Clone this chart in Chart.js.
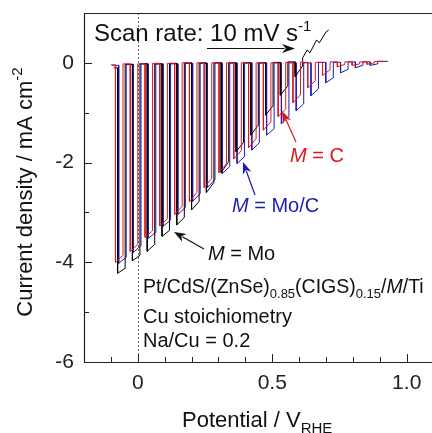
<!DOCTYPE html>
<html>
<head>
<meta charset="utf-8">
<script src="https://cdn.jsdelivr.net/npm/chart.js@4.4.1/dist/chart.umd.min.js"></script>
<style>
html,body{margin:0;padding:0;background:#fff;}
#wrap{width:432px;height:433px;position:relative;}
</style>
</head>
<body>
<div id="wrap"><canvas id="c" width="432" height="433"></canvas></div>
<script>
// ---- axis ticks ----
const xMajor = [0, 0.5, 1.0];
const xMajorLabels = ['0', '0.5', '1.0'];
const xMinor = [-0.1, 0.1, 0.2, 0.3, 0.4, 0.6, 0.7, 0.8, 0.9];
const yMajor = [-6, -4, -2, 0];
const yMajorLabels = ['-6', '-4', '-2', '0'];
const yMinor = [-5, -3, -1];

// ---- M = Mo (black) : chopped-light pulses (potential V, current mA cm-2) ----
const blackStart = [-0.09];
const blackOn  = [-0.075, -0.020, 0.035, 0.090, 0.145, 0.200, 0.255, 0.310, 0.365, 0.420, 0.475, 0.530, 0.585];
const blackOff = [-0.047, 0.008, 0.063, 0.118, 0.173, 0.228, 0.283, 0.338, 0.393, 0.448, 0.503, 0.558, 0.613];
const blackLightStart = [-4.22, -3.97, -3.78, -3.48, -3.25, -2.95, -2.60, -2.20, -1.78, -1.45, -1.05, -0.65, -0.28];
const blackLightEnd   = [-4.12, -3.86, -3.64, -3.36, -3.10, -2.78, -2.40, -1.98, -1.60, -1.25, -0.86, -0.46, -0.06];
const blackDark = [-0.10, -0.03, -0.02, -0.02, -0.01, 0.0, 0.0, 0.0, 0.0, 0.0, 0.0, 0.01, 0.02, 0.10];
const blackTailV = [0.630, 0.640, 0.665, 0.675, 0.700, 0.710];
const blackTailJ = [0.26, 0.20, 0.46, 0.40, 0.62, 0.66];

// ---- M = Mo/C (blue) ----
const blueStart = [-0.095];
const blueOn  = [-0.071, -0.016, 0.039, 0.094, 0.149, 0.204, 0.259, 0.314, 0.369, 0.424, 0.479, 0.534, 0.589, 0.644, 0.699, 0.754, 0.809, 0.864];
const blueOff = [-0.043, 0.012, 0.067, 0.122, 0.177, 0.232, 0.287, 0.342, 0.397, 0.452, 0.507, 0.562, 0.617, 0.672, 0.727, 0.782, 0.837, 0.892];
const blueLightStart = [-4.02, -3.80, -3.52, -3.28, -3.04, -2.78, -2.50, -2.22, -2.02, -1.75, -1.45, -1.22, -0.96, -0.66, -0.40, -0.20, -0.10, -0.05];
const blueLightEnd   = [-3.90, -3.66, -3.40, -3.15, -2.90, -2.62, -2.34, -2.08, -1.88, -1.60, -1.32, -1.08, -0.82, -0.52, -0.30, -0.13, -0.05, -0.02];
const blueDark = [-0.05, -0.03, -0.02, -0.02, -0.02, -0.01, -0.01, 0.0, 0.0, 0.0, 0.0, 0.0, 0.0, 0.0, 0.01, 0.01, 0.02, 0.02, 0.03];
const blueEnd = [0.93, 0.03];

// ---- M = C (red) ----
const redStart = [-0.10];
const redOn  = [-0.083, -0.028, 0.027, 0.082, 0.137, 0.192, 0.247, 0.302, 0.357, 0.412, 0.467, 0.522, 0.577, 0.632, 0.687, 0.742, 0.797, 0.852];
const redOff = [-0.055, 0.000, 0.055, 0.110, 0.165, 0.220, 0.275, 0.330, 0.385, 0.440, 0.495, 0.550, 0.605, 0.660, 0.715, 0.770, 0.825, 0.880];
const redLightStart = [-4.00, -3.78, -3.50, -3.27, -3.04, -2.78, -2.50, -2.20, -1.93, -1.70, -1.35, -1.08, -0.80, -0.50, -0.25, -0.08, -0.05, -0.03];
const redLightEnd   = [-3.86, -3.64, -3.37, -3.13, -2.88, -2.60, -2.32, -2.02, -1.76, -1.52, -1.18, -0.92, -0.64, -0.36, -0.14, -0.03, -0.02, 0.0];
const redDark = [-0.04, -0.02, -0.02, -0.01, -0.01, 0.0, 0.0, 0.0, 0.0, 0.0, 0.0, 0.0, 0.01, 0.01, 0.01, 0.02, 0.02, 0.02, 0.03];
const redEnd = [0.92, 0.03];

function chop(start, on, off, ls, le, dark) {
  const pts = [{x: start[0], y: dark[0]}];
  for (let i = 0; i < on.length; i++) {
    pts.push({x: on[i], y: dark[i]});
    pts.push({x: on[i], y: ls[i]});
    pts.push({x: off[i], y: le[i]});
    pts.push({x: off[i], y: dark[i + 1]});
  }
  return pts;
}

const blackPts = chop(blackStart, blackOn, blackOff, blackLightStart, blackLightEnd, blackDark)
  .concat(blackTailV.map((v, i) => ({x: v, y: blackTailJ[i]})));
const bluePts = chop(blueStart, blueOn, blueOff, blueLightStart, blueLightEnd, blueDark);
bluePts.push({x: blueEnd[0], y: blueEnd[1]});
const redPts = chop(redStart, redOn, redOff, redLightStart, redLightEnd, redDark);
redPts.push({x: redEnd[0], y: redEnd[1]});

const FONT = "'Liberation Sans', Arial, Helvetica, sans-serif";
const RED = '#e0161e', BLUE = '#1c1cb4', BLACK = '#000000';

function drawRich(ctx, x, y, parts, base) {
  let cx = x;
  parts.forEach(p => {
    const size = p.size || base;
    ctx.font = (p.italic ? 'italic ' : '') + size + 'px ' + FONT;
    ctx.fillStyle = p.color || '#111';
    ctx.textBaseline = 'alphabetic';
    ctx.textAlign = 'left';
    ctx.fillText(p.t, cx, y + (p.dy || 0));
    cx += ctx.measureText(p.t).width;
  });
  return cx - x;
}
function richWidth(ctx, parts, base) {
  let w = 0;
  parts.forEach(p => {
    ctx.font = (p.italic ? 'italic ' : '') + (p.size || base) + 'px ' + FONT;
    w += ctx.measureText(p.t).width;
  });
  return w;
}
function arrow(ctx, x1, y1, x2, y2, color, hl, hw) {
  const a = Math.atan2(y2 - y1, x2 - x1);
  ctx.save();
  ctx.strokeStyle = color; ctx.fillStyle = color; ctx.lineWidth = 1.2;
  ctx.beginPath();
  ctx.moveTo(x1, y1);
  ctx.lineTo(x2 - Math.cos(a) * hl * 0.8, y2 - Math.sin(a) * hl * 0.8);
  ctx.stroke();
  ctx.beginPath();
  ctx.moveTo(x2, y2);
  ctx.lineTo(x2 - Math.cos(a) * hl + Math.sin(a) * hw, y2 - Math.sin(a) * hl - Math.cos(a) * hw);
  ctx.lineTo(x2 - Math.cos(a) * hl * 0.7, y2 - Math.sin(a) * hl * 0.7);
  ctx.lineTo(x2 - Math.cos(a) * hl - Math.sin(a) * hw, y2 - Math.sin(a) * hl + Math.cos(a) * hw);
  ctx.closePath();
  ctx.fill();
  ctx.restore();
}

const framePlugin = {
  id: 'frame',
  beforeDatasetsDraw(chart) {
    const {ctx, chartArea: a, scales: {x}} = chart;
    const x0 = x.getPixelForValue(0);
    ctx.save();
    ctx.strokeStyle = '#666'; ctx.lineWidth = 1; ctx.setLineDash([2, 2]);
    ctx.beginPath(); ctx.moveTo(Math.round(x0) + 0.5, a.top); ctx.lineTo(Math.round(x0) + 0.5, a.bottom); ctx.stroke();
    ctx.restore();
  },
  afterDraw(chart) {
    const {ctx, chartArea: a, scales: {x, y}} = chart;
    ctx.save();
    ctx.strokeStyle = '#222'; ctx.lineWidth = 1.2;
    ctx.beginPath();
    ctx.moveTo(a.right + 2, a.top + 0.5); ctx.lineTo(a.left + 0.5, a.top + 0.5);
    ctx.lineTo(a.left + 0.5, a.bottom + 0.5); ctx.lineTo(a.right + 2, a.bottom + 0.5);
    ctx.stroke();
    ctx.lineWidth = 1;
    const xt = (vals, len) => vals.forEach(v => {
      const px = Math.round(x.getPixelForValue(v)) + 0.5;
      ctx.beginPath(); ctx.moveTo(px, a.bottom); ctx.lineTo(px, a.bottom - len); ctx.stroke();
    });
    const yt = (vals, len) => vals.forEach(v => {
      const py = Math.round(y.getPixelForValue(v)) + 0.5;
      ctx.beginPath(); ctx.moveTo(a.left, py); ctx.lineTo(a.left + len, py); ctx.stroke();
    });
    xt(xMajor, 8); xt(xMinor, 5); yt(yMajor, 8); yt(yMinor, 5);

    // scan rate
    drawRich(ctx, 94, 41, [{t: 'Scan rate: 10 mV s'}, {t: '-1', size: 15, dy: -10}], 24);
    arrow(ctx, 207, 48.5, 295, 48.5, '#111', 13, 4.5);

    // series labels
    drawRich(ctx, 290, 162, [{t: 'M', italic: true, color: RED}, {t: ' = C', color: RED}], 20);
    arrow(ctx, 296, 142, 282, 111, RED, 12, 4.5);
    drawRich(ctx, 232, 212, [{t: 'M', italic: true, color: BLUE}, {t: ' = Mo/C', color: BLUE}], 20);
    arrow(ctx, 255, 195, 243, 162, BLUE, 12, 4.5);
    drawRich(ctx, 208, 260, [{t: 'M', italic: true, color: '#111'}, {t: ' = Mo', color: '#111'}], 20);
    arrow(ctx, 204, 249, 174, 232, '#111', 12, 4.5);

    // sample block
    drawRich(ctx, 143, 293, [
      {t: 'Pt/CdS/(ZnSe)'}, {t: '0.85', size: 13, dy: 5}, {t: '(CIGS)'}, {t: '0.15', size: 13, dy: 5},
      {t: '/'}, {t: 'M', italic: true}, {t: '/Ti'}], 19.5);
    drawRich(ctx, 143, 323, [{t: 'Cu stoichiometry'}], 20);
    drawRich(ctx, 143, 347, [{t: 'Na/Cu = 0.2'}], 20);

    // x title
    drawRich(ctx, 182, 427, [{t: 'Potential / V'}, {t: 'RHE', size: 15, dy: 6}], 22);

    // y title
    const yParts = [{t: 'Current density / mA cm'}, {t: '-2', size: 15, dy: -10}];
    const w = richWidth(ctx, yParts, 22);
    ctx.save();
    ctx.translate(32, 192);
    ctx.rotate(-Math.PI / 2);
    drawRich(ctx, -w / 2, 0, yParts, 22);
    ctx.restore();
    ctx.restore();
  }
};

function noPad(s) { s.paddingTop = 0; s.paddingBottom = 0; s.paddingLeft = 0; s.paddingRight = 0; }

const tickFont = {family: FONT, size: 21};
new Chart(document.getElementById('c'), {
  type: 'line',
  data: {
    datasets: [
      {label: 'M = C', data: redPts, borderColor: RED, borderWidth: 1, pointRadius: 0, tension: 0, fill: false},
      {label: 'M = Mo', data: blackPts, borderColor: BLACK, borderWidth: 1, pointRadius: 0, tension: 0, fill: false},
      {label: 'M = Mo/C', data: bluePts, borderColor: BLUE, borderWidth: 1, pointRadius: 0, tension: 0, fill: false}
    ]
  },
  options: {
    responsive: false,
    animation: false,
    events: [],
    layout: {padding: {left: 0, right: 0, top: 13, bottom: 0}},
    plugins: {legend: {display: false}, tooltip: {enabled: false}},
    scales: {
      x: {
        type: 'linear', min: -0.2, max: 1.094,
        grid: {display: false, drawTicks: false},
        border: {display: false},
        afterBuildTicks: s => { s.ticks = xMajor.map(v => ({value: v})); },
        afterFit: s => { s.height = 71; noPad(s); },
        ticks: {
          font: tickFont, color: '#222', padding: 9, maxRotation: 0, autoSkip: false,
          callback: v => { const i = xMajor.indexOf(v); return i >= 0 ? xMajorLabels[i] : ''; }
        }
      },
      y: {
        type: 'linear', min: -6, max: 1,
        grid: {display: false, drawTicks: false},
        border: {display: false},
        afterBuildTicks: s => { s.ticks = yMajor.map(v => ({value: v})); },
        afterFit: s => { s.width = 84; noPad(s); },
        ticks: {
          font: tickFont, color: '#222', padding: 10, autoSkip: false,
          callback: v => { const i = yMajor.indexOf(v); return i >= 0 ? yMajorLabels[i] : ''; }
        }
      }
    }
  },
  plugins: [framePlugin]
});
</script>
</body>
</html>
